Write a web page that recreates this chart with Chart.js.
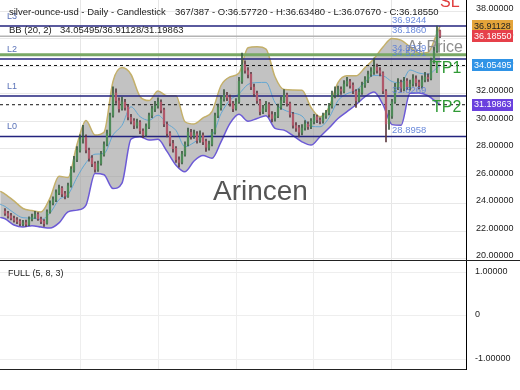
<!DOCTYPE html>
<html><head><meta charset="utf-8">
<script src="https://cdn.jsdelivr.net/npm/chart.js@4.4.1/dist/chart.umd.min.js"></script>
<style>
html,body{margin:0;padding:0;background:#fff;}
#wrap{position:relative;width:520px;height:390px;overflow:hidden;background:#fff;}
#main{position:absolute;left:0;top:0;}
#sub{position:absolute;left:0;top:260px;}
</style></head><body>
<div id="wrap">
<canvas id="main" width="520" height="260"></canvas>
<canvas id="sub" width="520" height="130"></canvas>
</div>
<script>
// ---------- data ----------
const opens = [23.45,23.28,23.12,22.93,22.82,22.72,22.52,22.62,22.48,22.88,
23.02,23.22,22.88,22.72,22.58,23.38,24.05,24.28,24.78,25.12,
24.72,24.52,25.32,26.45,27.22,27.88,28.72,28.82,27.88,27.32,
26.92,26.48,26.92,27.58,28.32,29.08,30.42,32.05,31.48,30.92,
31.38,31.02,30.28,30.02,29.68,29.92,29.28,29.02,29.58,30.42,
30.88,31.12,31.38,30.82,29.78,29.12,28.38,28.02,27.18,27.02,
27.58,28.32,29.18,28.92,29.08,28.62,28.98,28.52,28.08,28.32,
29.18,30.42,30.98,31.62,31.88,31.72,31.28,30.92,31.42,32.88,
34.12,33.68,33.42,32.48,32.02,31.48,30.72,30.88,31.22,30.48,
30.22,30.38,31.02,31.48,31.92,31.28,30.52,29.68,29.52,29.18,
29.52,29.78,29.62,29.98,30.32,30.08,30.02,30.38,30.62,31.08,
31.92,31.98,32.32,32.18,32.72,32.88,32.62,32.18,31.52,32.08,
32.62,32.98,33.42,33.58,33.92,33.68,33.52,32.18,29.82,30.38,
31.42,32.48,32.82,32.38,32.92,32.48,32.72,33.08,32.82,32.58,
33.02,33.18,33.12,34.38,35.12,36.5772];
const highs = [23.65,23.45,23.30,23.10,22.98,22.85,22.78,22.80,23.05,23.25,
23.45,23.35,23.02,22.85,23.55,24.20,24.50,25.00,25.35,25.25,
24.90,25.50,26.70,27.45,28.15,29.00,29.70,29.00,28.05,27.50,
27.05,27.10,27.80,28.50,29.35,30.60,32.50,32.35,31.70,31.75,
31.60,31.15,30.50,30.20,30.15,30.05,29.45,29.80,30.60,31.10,
31.45,31.70,31.55,30.95,29.95,29.25,28.60,28.15,27.40,27.80,
28.50,29.50,29.40,29.35,29.25,29.30,29.15,28.70,28.55,29.40,
30.60,31.25,31.85,32.30,32.10,31.90,31.45,31.65,33.20,34.96,
34.40,33.90,33.55,32.70,32.20,31.60,31.15,31.45,31.35,30.70,
30.65,31.25,31.75,32.30,32.05,31.40,30.65,29.90,29.70,29.75,
30.05,29.95,30.20,30.50,30.45,30.25,30.60,30.80,31.30,32.20,
32.50,32.55,32.50,32.95,33.20,33.05,32.80,32.30,32.35,32.85,
33.25,33.65,33.90,34.60,34.15,33.90,33.60,32.30,30.80,31.60,
32.75,33.10,33.00,33.20,33.10,33.00,33.40,33.30,33.00,33.30,
33.55,33.45,34.60,35.40,36.92,36.6348];
const lows = [23.15,22.95,22.82,22.65,22.55,22.40,22.38,22.35,22.40,22.75,
22.92,22.78,22.55,22.35,22.50,23.30,23.90,24.15,24.65,24.50,
24.35,24.45,25.20,26.30,27.05,27.75,28.40,27.70,27.10,26.70,
26.30,26.35,26.80,27.45,28.20,28.95,30.30,31.30,30.65,30.80,
30.80,30.10,29.80,29.45,29.50,29.10,28.80,28.90,29.45,30.25,
30.70,30.95,30.60,29.60,28.85,28.20,27.75,27.00,26.65,26.90,
27.45,28.20,28.70,28.75,28.40,28.45,28.30,27.80,27.90,28.20,
29.05,30.25,30.80,31.45,31.50,31.10,30.70,30.80,31.30,32.75,
33.50,33.15,32.30,31.80,31.30,30.45,30.55,30.70,30.30,29.95,
30.00,30.25,30.85,31.35,31.10,30.30,29.50,29.25,28.85,29.00,
29.35,29.40,29.45,29.80,29.90,29.80,29.85,30.20,30.45,30.95,
31.70,31.80,31.95,32.05,32.55,32.40,32.00,31.00,31.40,31.95,
32.45,32.80,33.25,33.40,33.50,33.30,32.00,28.50,29.40,30.20,
31.30,32.30,32.15,32.20,32.30,32.25,32.55,32.55,32.35,32.40,
32.85,32.90,33.00,34.20,35.00,36.0767];
const closes = [23.30,23.10,22.95,22.80,22.70,22.55,22.60,22.50,22.85,23.00,
23.20,22.90,22.70,22.55,23.40,24.00,24.30,24.80,25.10,24.70,
24.55,25.30,26.50,27.20,27.90,28.70,28.80,27.90,27.30,26.90,
26.50,26.90,27.60,28.30,29.10,30.40,32.00,31.50,30.90,31.40,
31.00,30.30,30.00,29.70,29.90,29.30,29.00,29.60,30.40,30.90,
31.10,31.40,30.80,29.80,29.10,28.40,28.00,27.20,27.00,27.60,
28.30,29.20,28.90,29.10,28.60,29.00,28.50,28.10,28.30,29.20,
30.40,31.00,31.60,31.90,31.70,31.30,30.90,31.40,32.90,34.10,
33.70,33.40,32.50,32.00,31.50,30.70,30.90,31.20,30.50,30.20,
30.40,31.00,31.50,31.90,31.30,30.50,29.70,29.50,29.20,29.50,
29.80,29.60,30.00,30.30,30.10,30.00,30.40,30.60,31.10,31.90,
32.00,32.30,32.20,32.70,32.90,32.60,32.20,31.50,32.10,32.60,
33.00,33.40,33.60,33.90,33.70,33.50,32.20,29.80,30.40,31.40,
32.50,32.80,32.40,32.90,32.50,32.70,33.10,32.80,32.60,33.00,
33.20,33.10,34.40,35.10,36.58,36.1855];

// Bollinger band readings (bar index -> value)
const bandIdx = [-1.6,0,3,6,9,12,15,18,21,24,27,30,33,36,39,42,45,48,51,54,57,60,63,66,69,72,75,78,81,84,87,90,93,96,99,102,105,108,111,114,117,120,123,126,129,132,135,138,141,144,145];
const bbUpper = [24.9,24.7,24.2,23.65,23.5,23.4,24.4,26.0,25.9,28.3,30.05,29.0,29.2,32.9,33.9,33.4,31.8,31.5,32.2,31.85,31.85,29.96,29.8,30.25,30.7,32.6,33.23,33.5,35.35,35.42,35.25,33.23,32.3,32.27,32.25,31.0,30.32,31.0,32.8,33.3,33.3,33.9,34.55,35.4,36.02,35.9,35.42,34.95,35.0,36.4,36.91128];
const bbLower = [23.0,22.9,22.45,22.3,22.4,22.3,22.22,22.6,23.4,23.53,23.9,26.2,26.1,25.1,25.5,28.7,28.87,28.63,28.68,27.8,26.8,26.32,27.1,27.5,27.3,28.5,29.84,30.5,30.0,30.2,30.4,29.48,29.35,28.95,28.5,28.26,28.87,29.5,30.2,30.7,31.2,31.78,32.12,31.2,29.75,29.7,32.03,32.05,31.85,31.35,31.19863];

// levels
const levelNames = ['L3','L2','L1','L0'];
const levelValues = [36.9244, 34.5231, 31.8269, 28.8958];
const lastPriceLine = 36.1860;
const atPriceLine = 34.8329;
const tpValues = [34.05495, 31.19863];
const tpNames = ['TP1','TP2'];
const bbLast = {mid: 34.05495, up: 36.91128, low: 31.19863};
const lastClose = 36.18550;
const yTicks = [20,21,22,23,24,25,26,27,28,29,30,31,32,33,34,35,36,37,38];
const subTicks = [-1,0,1];
const gridIdx = [25.3, 51.2, 77.1, 103.0, 128.9];

const titleLeft = 'silver-ounce-usd - Daily - Candlestick';
const titleRight = '367/387 - O:36.57720 - H:36.63480 - L:36.07670 - C:36.18550';
const bbName = 'BB (20, 2)';
const bbText = '34.05495/36.91128/31.19863';

// ---------- chart ----------
const FAM = "'Liberation Sans', Arial, sans-serif";
Chart.defaults.font.family = FAM;
const X_MIN = -1.667, X_MAX = 153.667;

const bandPts = arr => bandIdx.map((x, k) => ({x, y: arr[k]}));
const bbMiddle = bbUpper.map((u, k) => (u + bbLower[k]) / 2);
const flat = v => [{x: X_MIN, y: v}, {x: X_MAX, y: v}];
const upColor = '#4e8a58', downColor = '#b0586a';
const bodyColors = closes.map((c, i) => c >= opens[i] ? upColor : downColor);
const wickColors = closes.map((c, i) => c >= opens[i] ? '#3c5a40' : '#5e3a42');

const lineDs = (v, color, width, dash) => ({
  type: 'line', data: flat(v), borderColor: color, borderWidth: width,
  borderDash: dash || [], pointRadius: 0, fill: false, order: 4
});

const datasets = [
  {type:'line', data: bandPts(bbUpper), borderColor:'#c4b06a', borderWidth:1.5, pointRadius:0,
   cubicInterpolationMode:'monotone', fill:'+1', backgroundColor:'rgba(150,150,150,0.58)', order:9},
  {type:'line', data: bandPts(bbLower), borderColor:'#6c5ad6', borderWidth:1.5, pointRadius:0,
   cubicInterpolationMode:'monotone', fill:false, order:8},
  {type:'line', data: bandPts(bbMiddle), borderColor:'#62a6d2', borderWidth:1, pointRadius:0,
   cubicInterpolationMode:'monotone', fill:false, order:7},
  lineDs(levelValues[0], '#23237e', 1.5),
  lineDs(lastPriceLine, '#b4b4b4', 1.5),
  lineDs(atPriceLine, '#79a865', 3),
  lineDs(levelValues[1], '#23237e', 1.5),
  lineDs(tpValues[0], '#111111', 1, [3,3]),
  lineDs(levelValues[2], '#23237e', 1.5),
  lineDs(tpValues[1], '#111111', 1, [3,3]),
  lineDs(levelValues[3], '#23237e', 1.5),
  {type:'bar', data: lows.map((l, i) => ({x: i, y: [l, highs[i]]})), backgroundColor: wickColors,
   barThickness: 1, grouped: false, borderWidth: 0, order: 2},
  {type:'bar', data: opens.map((o, i) => ({x: i, y: [o, closes[i]]})), backgroundColor: bodyColors,
   barThickness: 1.6, minBarLength: 1, grouped: false, borderWidth: 0, order: 1}
];

const deco = {
  id: 'deco',
  afterDraw(chart) {
    const {ctx, scales: {y}} = chart;
    const F = s => s + 'px ' + FAM;
    ctx.save();
    ctx.textBaseline = 'middle';
    ctx.textAlign = 'left';
    // watermark
    ctx.font = F(28); ctx.fillStyle = '#555555';
    ctx.fillText('Arincen', 213, 192);
    // level names
    ctx.font = F(9); ctx.fillStyle = '#5a72b8';
    levelNames.forEach((n, k) => ctx.fillText(n, 7, y.getPixelForValue(levelValues[k]) - 10));
    // At Price
    ctx.font = F(16); ctx.fillStyle = '#8e8e8e';
    ctx.fillText('At Price', 407, 48);
    // value labels
    ctx.font = F(9.5); ctx.fillStyle = 'rgba(90,125,215,0.9)';
    [levelValues[0], lastPriceLine, atPriceLine, levelValues[1], levelValues[2], levelValues[3]].forEach(v =>
      ctx.fillText(v.toFixed(4), 392, y.getPixelForValue(v) - 6));
    // SL / TP
    ctx.font = F(16); ctx.fillStyle = '#e03c3c';
    ctx.fillText('SL', 440, 3);
    ctx.fillStyle = '#2f9a35';
    tpNames.forEach((n, k) => ctx.fillText(n, 432, y.getPixelForValue(tpValues[k]) + 3));
    // title texts
    ctx.font = F(9.5); ctx.fillStyle = '#222';
    ctx.fillText(titleLeft, 9, 12);
    ctx.fillText(titleRight, 175, 12);
    ctx.fillText(bbName, 9, 30);
    ctx.fillText(bbText, 60, 30);
    // axis value boxes
    const boxes = [[bbLast.up, '#e4a43a', '#222'], [lastClose, '#e6404a', '#fff'],
                   [bbLast.mid, '#2f93e6', '#fff'], [bbLast.low, '#6a40de', '#fff']];
    ctx.font = F(9);
    boxes.forEach(([v, bg, fg]) => {
      const py = y.getPixelForValue(v);
      ctx.fillStyle = bg; ctx.fillRect(472, Math.round(py - 6), 41, 12);
      ctx.fillStyle = fg; ctx.fillText(v.toFixed(5), 474, py);
    });
    ctx.restore();
  }
};

new Chart(document.getElementById('main'), {
  type: 'line',
  data: {datasets},
  options: {
    responsive: false, animation: false,
    layout: {padding: 0},
    plugins: {legend: {display: false}, tooltip: {enabled: false}},
    scales: {
      x: {type: 'linear', min: X_MIN, max: X_MAX, offset: false,
          ticks: {display: false}, border: {display: false},
          grid: {color: '#e6e6e6', drawTicks: false, offset: false},
          afterBuildTicks: s => { s.ticks = gridIdx.map(v => ({value: v})); },
          afterFit: s => { s.height = 0; s.paddingLeft = 0; s.paddingRight = 0; }},
      y: {type: 'linear', position: 'right', min: 19.9, max: 38.82, beginAtZero: false,
          ticks: {font: {size: 9}, color: '#222', padding: 10, labelOffset: -3,
                  callback: v => v.toFixed(5)},
          grid: {color: '#e8e8e8', drawTicks: false},
          border: {display: true, color: '#000', width: 1},
          afterBuildTicks: s => { s.ticks = yTicks.map(v => ({value: v})); },
          afterFit: s => { s.width = 54; s.paddingTop = 0; s.paddingBottom = 0; }}
    }
  },
  plugins: [deco]
});

const subDeco = {
  id: 'subDeco',
  afterDraw(chart) {
    const {ctx, chartArea} = chart;
    ctx.save();
    ctx.strokeStyle = '#222'; ctx.lineWidth = 1;
    ctx.beginPath();
    ctx.moveTo(0, 0.5); ctx.lineTo(520, 0.5);
    ctx.moveTo(0, Math.round(chartArea.bottom) + 0.5); ctx.lineTo(chartArea.right, Math.round(chartArea.bottom) + 0.5);
    ctx.stroke();
    ctx.font = '9px ' + FAM; ctx.fillStyle = '#222';
    ctx.textBaseline = 'middle'; ctx.textAlign = 'left';
    ctx.fillText('FULL (5, 8, 3)', 8, 14);
    ctx.restore();
  }
};

new Chart(document.getElementById('sub'), {
  type: 'line',
  data: {datasets: []},
  options: {
    responsive: false, animation: false,
    layout: {padding: {top: 1, bottom: 21, left: 0, right: 0}},
    plugins: {legend: {display: false}, tooltip: {enabled: false}},
    scales: {
      x: {type: 'linear', min: X_MIN, max: X_MAX, offset: false,
          ticks: {display: false}, border: {display: false},
          grid: {color: '#eeeeee', drawTicks: false},
          afterBuildTicks: s => { s.ticks = gridIdx.map(v => ({value: v})); },
          afterFit: s => { s.height = 0; s.paddingLeft = 0; s.paddingRight = 0; }},
      y: {type: 'linear', position: 'right', min: -1.23, max: 1.27,
          ticks: {font: {size: 9}, color: '#222', padding: 9, labelOffset: -1,
                  callback: v => v === 0 ? '0' : v.toFixed(5)},
          grid: {color: '#eeeeee', drawTicks: false},
          border: {display: true, color: '#000', width: 1},
          afterBuildTicks: s => { s.ticks = subTicks.map(v => ({value: v})); },
          afterFit: s => { s.width = 54; s.paddingTop = 0; s.paddingBottom = 0; }}
    }
  },
  plugins: [subDeco]
});
</script>
</body></html>
